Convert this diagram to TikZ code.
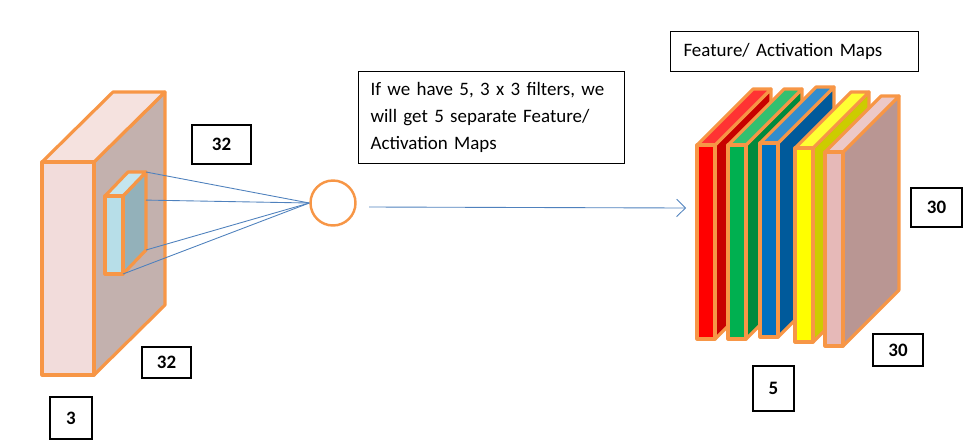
\documentclass[tikz,border=0pt]{standalone}
\usepackage{fontspec}
\setmainfont{Carlito}
\usepackage{tikz}
\usetikzlibrary{arrows.meta,calc}
\definecolor{edge}{RGB}{247,150,70}
\definecolor{wire}{RGB}{79,129,189}
\definecolor{inF}{RGB}{242,220,219}
\definecolor{inT}{RGB}{245,226,223}
\definecolor{inS}{RGB}{195,177,174}
\definecolor{fltF}{RGB}{183,222,232}
\definecolor{fltT}{RGB}{196,229,238}
\definecolor{fltS}{RGB}{147,177,186}
\definecolor{redF}{RGB}{255,0,0}
\definecolor{redT}{RGB}{255,51,51}
\definecolor{redS}{RGB}{200,0,0}
\definecolor{greenF}{RGB}{0,176,80}
\definecolor{greenT}{RGB}{51,192,112}
\definecolor{greenS}{RGB}{0,138,62}
\definecolor{blueF}{RGB}{0,112,192}
\definecolor{blueT}{RGB}{51,141,205}
\definecolor{blueS}{RGB}{0,90,155}
\definecolor{yellowF}{RGB}{255,255,0}
\definecolor{yellowT}{RGB}{255,255,51}
\definecolor{yellowS}{RGB}{204,204,0}
\definecolor{pinkF}{RGB}{230,185,184}
\definecolor{pinkT}{RGB}{236,200,199}
\definecolor{pinkS}{RGB}{185,150,147}
\begin{document}
\begin{tikzpicture}[x=0.02cm,y=-0.02cm]
	\path [use as bounding box] (0,0) rectangle (979,440);
	\tikzstyle{face} = [draw=edge, line width=1.8pt, line join=round]
	\tikzstyle{wireline} = [draw=wire, line width=0.5pt]
	\tikzstyle{numbox} = [draw, line width=0.6pt, inner sep=0pt, font=\fontsize{10.8}{13}\selectfont\bfseries]
	\tikzstyle{textbox} = [draw, line width=0.6pt, anchor=north west, align=left, inner xsep=0.24cm, font=\fontsize{10.8}{15.3}\selectfont]
	% input volume
	\coordinate (A) at (42,162);
	\coordinate (B) at (94,162);
	\coordinate (C) at (94,375);
	\coordinate (D) at (42,375);
	\draw[face, fill=inS] (B) -- ($(B)+(71,-70)$) -- ($(C)+(71,-70)$) -- (C) -- cycle;
	\draw[face, fill=inT] (A) -- ($(A)+(71,-70)$) -- ($(B)+(71,-70)$) -- (B) -- cycle;
	\draw[face, fill=inF] (A) rectangle (C);
	% filter
	\coordinate (fA) at (105,196);
	\coordinate (fB) at (123,196);
	\coordinate (fC) at (123,274);
	\coordinate (fD) at (105,274);
	\coordinate (fTR) at ($(fB)+(23,-24)$);
	\coordinate (fBR) at ($(fC)+(23,-24)$);
	\coordinate (fMR) at ($(fTR)!0.36!(fBR)$);
	\draw[face, fill=fltS] (fB) -- (fTR) -- (fBR) -- (fC) -- cycle;
	\draw[face, fill=fltT] (fA) -- ($(fA)+(23,-24)$) -- (fTR) -- (fB) -- cycle;
	\draw[face, fill=fltF] (fA) rectangle (fC);
	\node[circle, draw=edge, line width=1.4pt, minimum size=0.9cm, inner sep=0pt] (conv) at (333,203) {};
	\draw[wireline] (fTR) -- (conv.west);
	\draw[wireline] (fMR) -- (conv.west);
	\draw[wireline] (fBR) -- (conv.west);
	\draw[wireline] (fC) -- (conv.west);
	\coordinate (arrS) at (369,207);
	\coordinate (arrE) at (686,208);
	\draw[wireline, -{Straight Barb[length=5pt,width=10pt]}] (arrS) -- (arrE);
	% feature maps
	\foreach \x/\y/\c in {697/145/red, 728/145/green, 760/143/blue, 795/148/yellow, 825/152/pink} {
		\draw[face, fill=\c S] (\x+18,\y) -- (\x+74,\y-56) -- (\x+74,\y+138) -- (\x+18,\y+194) -- cycle;
		\draw[face, fill=\c T] (\x,\y) -- (\x+56,\y-56) -- (\x+74,\y-56) -- (\x+18,\y) -- cycle;
		\draw[face, fill=\c F] (\x,\y) rectangle (\x+18,\y+194);
	}
	% labels
	\node[textbox, text width=4.84cm, minimum height=1.84cm] (note) at (358,71) {If we have 5, 3 x 3 filters, we\\will get 5 separate Feature/\\Activation Maps};
	\node[textbox, text width=4.44cm, minimum height=0.8cm, inner xsep=0.26cm] (title) at (670,31) {Feature/ Activation Maps};
	\node[numbox, minimum width=1.18cm, minimum height=0.78cm] (hIn) at (221.5,144.5) {32};
	\node[numbox, minimum width=0.98cm, minimum height=0.62cm] (wIn) at (166.5,362.5) {32};
	\node[numbox, minimum width=0.84cm, minimum height=0.84cm] (dIn) at (71,418) {3};
	\node[numbox, minimum width=0.82cm, minimum height=0.9cm] (dOut) at (773.5,388.5) {5};
	\node[numbox, minimum width=1.02cm, minimum height=0.78cm] (hOut) at (936.5,207.5) {30};
	\node[numbox, minimum width=1.0cm, minimum height=0.64cm] (wOut) at (898,350) {30};
\end{tikzpicture}
\end{document}
